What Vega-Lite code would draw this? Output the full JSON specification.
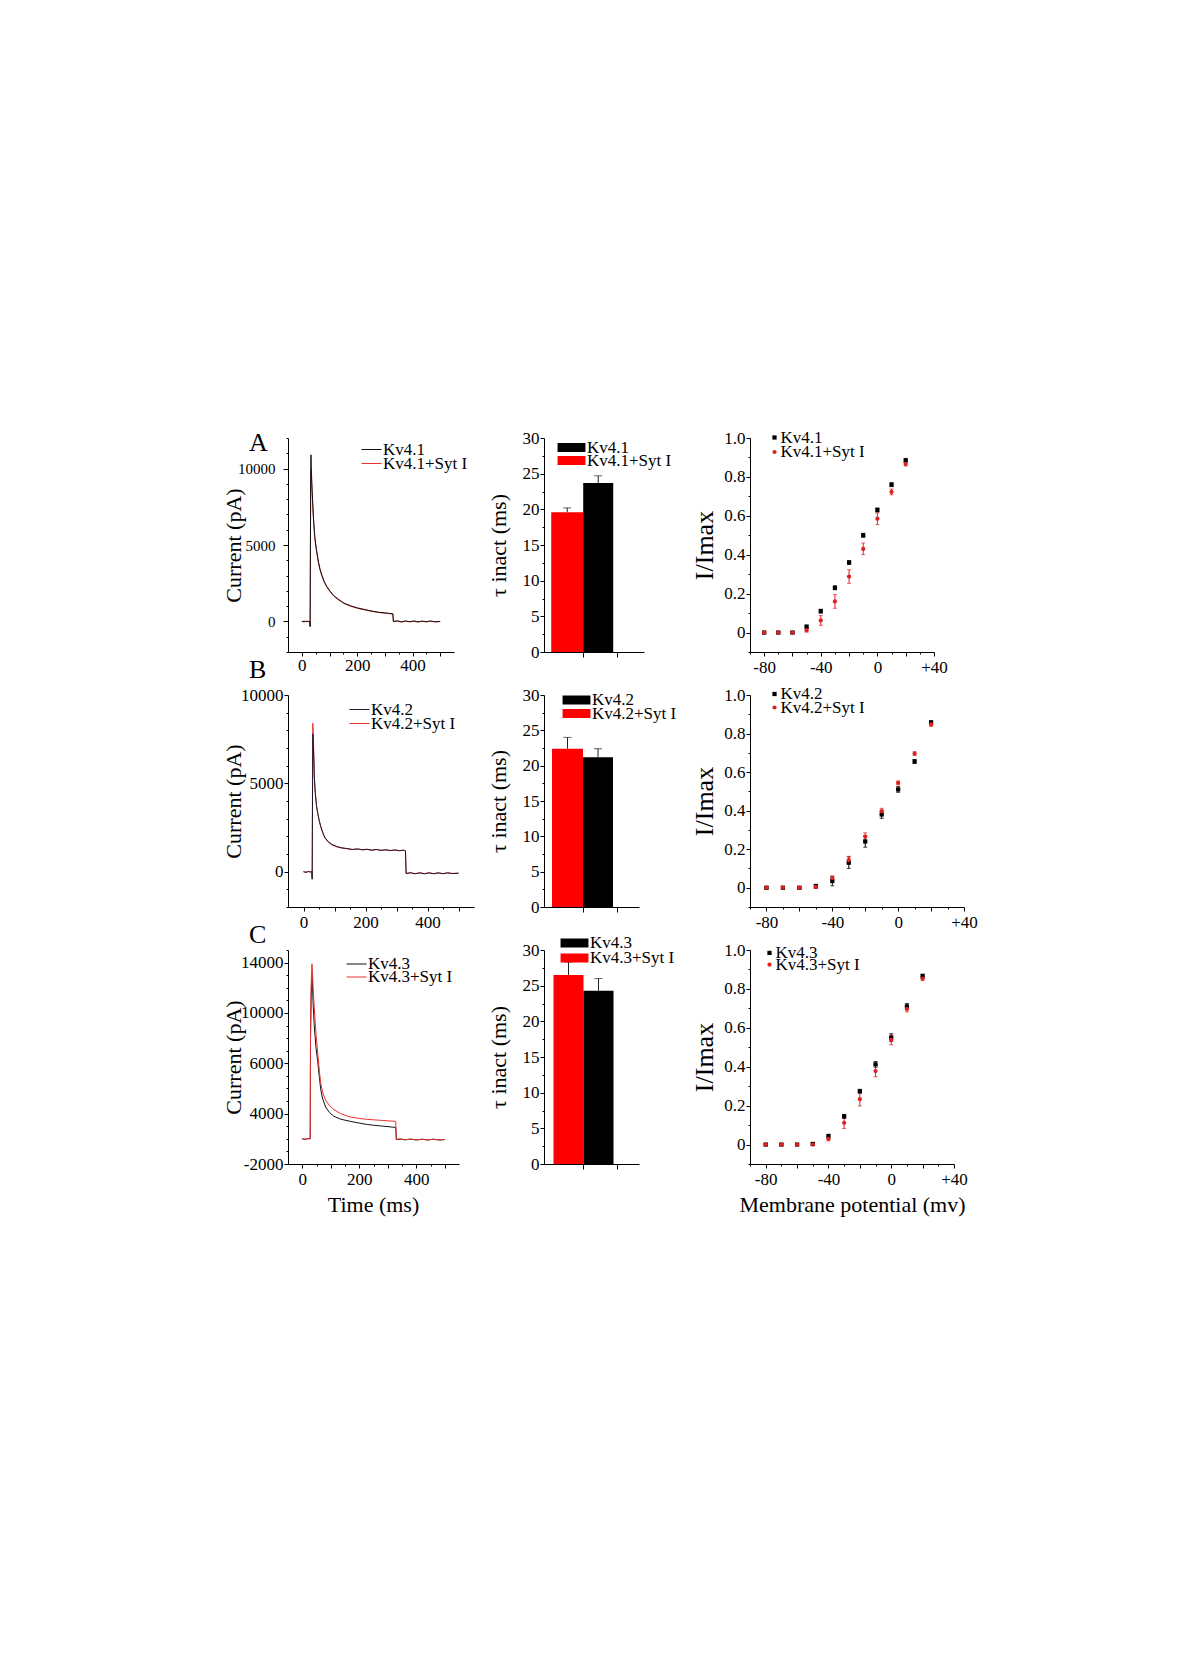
{
"$schema":"https://vega.github.io/schema/vega-lite/v6.json",
"background":"white",
"padding":{"left":222,"top":429,"right":10,"bottom":10},
"config":{"font":"Liberation Serif","view":{"stroke":null},
 "axis":{"grid":false,"domainColor":"#000","tickColor":"#000","labelColor":"#000","titleColor":"#000","labelFont":"Liberation Serif","titleFont":"Liberation Serif","titleFontWeight":"normal","domainWidth":1,"tickWidth":1,"titleFontSize":22,"labelOverlap":false,"labelFlush":false},
 "legend":{"padding":0,"labelFont":"Liberation Serif","labelColor":"#000","labelFontSize":17},
 "title":{"font":"Liberation Serif","fontWeight":"normal","color":"#000"}},
"datasets":{
"trA":[
{"t":0,"I":0,"s":"Kv4.1+Syt I"},{"t":8,"I":20,"s":"Kv4.1+Syt I"},{"t":16,"I":-20,"s":"Kv4.1+Syt I"},{"t":24,"I":10,"s":"Kv4.1+Syt I"},{"t":29,"I":0,"s":"Kv4.1+Syt I"},{"t":30,"I":-300,"s":"Kv4.1+Syt I"},{"t":31,"I":4500,"s":"Kv4.1+Syt I"},{"t":32,"I":9000,"s":"Kv4.1+Syt I"},{"t":33,"I":9850,"s":"Kv4.1+Syt I"},{"t":34,"I":9600,"s":"Kv4.1+Syt I"},{"t":35,"I":9200,"s":"Kv4.1+Syt I"},{"t":37,"I":8500,"s":"Kv4.1+Syt I"},{"t":40,"I":7400,"s":"Kv4.1+Syt I"},{"t":43,"I":6400,"s":"Kv4.1+Syt I"},{"t":47,"I":5400,"s":"Kv4.1+Syt I"},{"t":53,"I":4600,"s":"Kv4.1+Syt I"},{"t":60,"I":3850,"s":"Kv4.1+Syt I"},{"t":66,"I":3350,"s":"Kv4.1+Syt I"},{"t":72,"I":3000,"s":"Kv4.1+Syt I"},{"t":80,"I":2600,"s":"Kv4.1+Syt I"},{"t":90,"I":2250,"s":"Kv4.1+Syt I"},{"t":103,"I":1920,"s":"Kv4.1+Syt I"},{"t":115,"I":1660,"s":"Kv4.1+Syt I"},{"t":130,"I":1440,"s":"Kv4.1+Syt I"},{"t":152,"I":1180,"s":"Kv4.1+Syt I"},{"t":175,"I":1000,"s":"Kv4.1+Syt I"},{"t":202,"I":850,"s":"Kv4.1+Syt I"},{"t":225,"I":760,"s":"Kv4.1+Syt I"},{"t":250,"I":670,"s":"Kv4.1+Syt I"},{"t":276,"I":590,"s":"Kv4.1+Syt I"},{"t":300,"I":540,"s":"Kv4.1+Syt I"},{"t":315,"I":510,"s":"Kv4.1+Syt I"},{"t":329,"I":480,"s":"Kv4.1+Syt I"},{"t":331,"I":-20,"s":"Kv4.1+Syt I"},{"t":345,"I":20,"s":"Kv4.1+Syt I"},{"t":360,"I":-40,"s":"Kv4.1+Syt I"},{"t":375,"I":20,"s":"Kv4.1+Syt I"},{"t":390,"I":-30,"s":"Kv4.1+Syt I"},{"t":405,"I":20,"s":"Kv4.1+Syt I"},{"t":420,"I":-40,"s":"Kv4.1+Syt I"},{"t":435,"I":10,"s":"Kv4.1+Syt I"},{"t":450,"I":-30,"s":"Kv4.1+Syt I"},{"t":465,"I":20,"s":"Kv4.1+Syt I"},{"t":480,"I":-30,"s":"Kv4.1+Syt I"},{"t":500,"I":-10,"s":"Kv4.1+Syt I"},
{"t":0,"I":0,"s":"Kv4.1"},{"t":8,"I":-30,"s":"Kv4.1"},{"t":16,"I":20,"s":"Kv4.1"},{"t":24,"I":-10,"s":"Kv4.1"},{"t":29,"I":0,"s":"Kv4.1"},{"t":30,"I":-350,"s":"Kv4.1"},{"t":31,"I":5000,"s":"Kv4.1"},{"t":32,"I":9500,"s":"Kv4.1"},{"t":33,"I":10900,"s":"Kv4.1"},{"t":34,"I":10200,"s":"Kv4.1"},{"t":35,"I":9600,"s":"Kv4.1"},{"t":37,"I":8700,"s":"Kv4.1"},{"t":40,"I":7500,"s":"Kv4.1"},{"t":43,"I":6500,"s":"Kv4.1"},{"t":47,"I":5500,"s":"Kv4.1"},{"t":53,"I":4700,"s":"Kv4.1"},{"t":60,"I":3900,"s":"Kv4.1"},{"t":66,"I":3400,"s":"Kv4.1"},{"t":72,"I":3060,"s":"Kv4.1"},{"t":80,"I":2650,"s":"Kv4.1"},{"t":90,"I":2300,"s":"Kv4.1"},{"t":103,"I":1970,"s":"Kv4.1"},{"t":115,"I":1700,"s":"Kv4.1"},{"t":130,"I":1480,"s":"Kv4.1"},{"t":152,"I":1200,"s":"Kv4.1"},{"t":175,"I":1030,"s":"Kv4.1"},{"t":202,"I":880,"s":"Kv4.1"},{"t":225,"I":790,"s":"Kv4.1"},{"t":250,"I":690,"s":"Kv4.1"},{"t":276,"I":600,"s":"Kv4.1"},{"t":300,"I":560,"s":"Kv4.1"},{"t":315,"I":530,"s":"Kv4.1"},{"t":329,"I":500,"s":"Kv4.1"},{"t":331,"I":0,"s":"Kv4.1"},{"t":345,"I":40,"s":"Kv4.1"},{"t":360,"I":-30,"s":"Kv4.1"},{"t":375,"I":30,"s":"Kv4.1"},{"t":390,"I":-20,"s":"Kv4.1"},{"t":405,"I":30,"s":"Kv4.1"},{"t":420,"I":-30,"s":"Kv4.1"},{"t":435,"I":20,"s":"Kv4.1"},{"t":450,"I":-20,"s":"Kv4.1"},{"t":465,"I":30,"s":"Kv4.1"},{"t":480,"I":-20,"s":"Kv4.1"},{"t":500,"I":0,"s":"Kv4.1"}],
"trB":[
{"t":0,"I":-10,"s":"Kv4.2+Syt I"},{"t":8,"I":-30,"s":"Kv4.2+Syt I"},{"t":16,"I":0,"s":"Kv4.2+Syt I"},{"t":22,"I":-10,"s":"Kv4.2+Syt I"},{"t":27,"I":0,"s":"Kv4.2+Syt I"},{"t":28,"I":-400,"s":"Kv4.2+Syt I"},{"t":29,"I":4500,"s":"Kv4.2+Syt I"},{"t":30,"I":8400,"s":"Kv4.2+Syt I"},{"t":31,"I":8000,"s":"Kv4.2+Syt I"},{"t":33,"I":6800,"s":"Kv4.2+Syt I"},{"t":35,"I":5400,"s":"Kv4.2+Syt I"},{"t":38,"I":4500,"s":"Kv4.2+Syt I"},{"t":42,"I":3750,"s":"Kv4.2+Syt I"},{"t":46,"I":3300,"s":"Kv4.2+Syt I"},{"t":50,"I":2950,"s":"Kv4.2+Syt I"},{"t":55,"I":2580,"s":"Kv4.2+Syt I"},{"t":60,"I":2300,"s":"Kv4.2+Syt I"},{"t":65,"I":2070,"s":"Kv4.2+Syt I"},{"t":70,"I":1880,"s":"Kv4.2+Syt I"},{"t":80,"I":1670,"s":"Kv4.2+Syt I"},{"t":92,"I":1510,"s":"Kv4.2+Syt I"},{"t":108,"I":1400,"s":"Kv4.2+Syt I"},{"t":124,"I":1330,"s":"Kv4.2+Syt I"},{"t":140,"I":1300,"s":"Kv4.2+Syt I"},{"t":157,"I":1250,"s":"Kv4.2+Syt I"},{"t":175,"I":1280,"s":"Kv4.2+Syt I"},{"t":190,"I":1230,"s":"Kv4.2+Syt I"},{"t":205,"I":1260,"s":"Kv4.2+Syt I"},{"t":220,"I":1210,"s":"Kv4.2+Syt I"},{"t":235,"I":1250,"s":"Kv4.2+Syt I"},{"t":250,"I":1200,"s":"Kv4.2+Syt I"},{"t":265,"I":1230,"s":"Kv4.2+Syt I"},{"t":280,"I":1190,"s":"Kv4.2+Syt I"},{"t":295,"I":1220,"s":"Kv4.2+Syt I"},{"t":310,"I":1180,"s":"Kv4.2+Syt I"},{"t":322,"I":1210,"s":"Kv4.2+Syt I"},{"t":329,"I":1170,"s":"Kv4.2+Syt I"},{"t":331,"I":-110,"s":"Kv4.2+Syt I"},{"t":345,"I":-70,"s":"Kv4.2+Syt I"},{"t":360,"I":-110,"s":"Kv4.2+Syt I"},{"t":375,"I":-60,"s":"Kv4.2+Syt I"},{"t":390,"I":-110,"s":"Kv4.2+Syt I"},{"t":405,"I":-60,"s":"Kv4.2+Syt I"},{"t":420,"I":-110,"s":"Kv4.2+Syt I"},{"t":435,"I":-60,"s":"Kv4.2+Syt I"},{"t":450,"I":-110,"s":"Kv4.2+Syt I"},{"t":465,"I":-60,"s":"Kv4.2+Syt I"},{"t":480,"I":-100,"s":"Kv4.2+Syt I"},{"t":500,"I":-80,"s":"Kv4.2+Syt I"},
{"t":0,"I":0,"s":"Kv4.2"},{"t":8,"I":-40,"s":"Kv4.2"},{"t":16,"I":10,"s":"Kv4.2"},{"t":22,"I":-20,"s":"Kv4.2"},{"t":27,"I":0,"s":"Kv4.2"},{"t":28,"I":-430,"s":"Kv4.2"},{"t":29,"I":4000,"s":"Kv4.2"},{"t":30,"I":7800,"s":"Kv4.2"},{"t":31,"I":7500,"s":"Kv4.2"},{"t":33,"I":6500,"s":"Kv4.2"},{"t":35,"I":5300,"s":"Kv4.2"},{"t":38,"I":4440,"s":"Kv4.2"},{"t":42,"I":3700,"s":"Kv4.2"},{"t":46,"I":3300,"s":"Kv4.2"},{"t":50,"I":2950,"s":"Kv4.2"},{"t":55,"I":2600,"s":"Kv4.2"},{"t":60,"I":2330,"s":"Kv4.2"},{"t":65,"I":2100,"s":"Kv4.2"},{"t":70,"I":1910,"s":"Kv4.2"},{"t":80,"I":1700,"s":"Kv4.2"},{"t":92,"I":1540,"s":"Kv4.2"},{"t":108,"I":1420,"s":"Kv4.2"},{"t":124,"I":1350,"s":"Kv4.2"},{"t":140,"I":1310,"s":"Kv4.2"},{"t":157,"I":1260,"s":"Kv4.2"},{"t":175,"I":1290,"s":"Kv4.2"},{"t":190,"I":1240,"s":"Kv4.2"},{"t":205,"I":1270,"s":"Kv4.2"},{"t":220,"I":1220,"s":"Kv4.2"},{"t":235,"I":1260,"s":"Kv4.2"},{"t":250,"I":1210,"s":"Kv4.2"},{"t":265,"I":1240,"s":"Kv4.2"},{"t":280,"I":1200,"s":"Kv4.2"},{"t":295,"I":1230,"s":"Kv4.2"},{"t":310,"I":1190,"s":"Kv4.2"},{"t":322,"I":1220,"s":"Kv4.2"},{"t":329,"I":1180,"s":"Kv4.2"},{"t":331,"I":-100,"s":"Kv4.2"},{"t":345,"I":-60,"s":"Kv4.2"},{"t":360,"I":-120,"s":"Kv4.2"},{"t":375,"I":-70,"s":"Kv4.2"},{"t":390,"I":-120,"s":"Kv4.2"},{"t":405,"I":-70,"s":"Kv4.2"},{"t":420,"I":-120,"s":"Kv4.2"},{"t":435,"I":-70,"s":"Kv4.2"},{"t":450,"I":-120,"s":"Kv4.2"},{"t":465,"I":-70,"s":"Kv4.2"},{"t":480,"I":-110,"s":"Kv4.2"},{"t":500,"I":-90,"s":"Kv4.2"}],
"trC":[
{"t":0,"I":0,"s":"Kv4.3"},{"t":10,"I":-40,"s":"Kv4.3"},{"t":20,"I":20,"s":"Kv4.3"},{"t":28,"I":0,"s":"Kv4.3"},{"t":29,"I":8000,"s":"Kv4.3"},{"t":31,"I":11000,"s":"Kv4.3"},{"t":34,"I":13000,"s":"Kv4.3"},{"t":36,"I":12200,"s":"Kv4.3"},{"t":38,"I":10800,"s":"Kv4.3"},{"t":42,"I":9000,"s":"Kv4.3"},{"t":48,"I":7300,"s":"Kv4.3"},{"t":54,"I":6200,"s":"Kv4.3"},{"t":60,"I":4900,"s":"Kv4.3"},{"t":65,"I":3900,"s":"Kv4.3"},{"t":72,"I":3150,"s":"Kv4.3"},{"t":82,"I":2530,"s":"Kv4.3"},{"t":95,"I":2100,"s":"Kv4.3"},{"t":111,"I":1790,"s":"Kv4.3"},{"t":135,"I":1560,"s":"Kv4.3"},{"t":168,"I":1390,"s":"Kv4.3"},{"t":200,"I":1250,"s":"Kv4.3"},{"t":225,"I":1150,"s":"Kv4.3"},{"t":250,"I":1080,"s":"Kv4.3"},{"t":282,"I":1010,"s":"Kv4.3"},{"t":305,"I":960,"s":"Kv4.3"},{"t":328,"I":900,"s":"Kv4.3"},{"t":330,"I":-60,"s":"Kv4.3"},{"t":345,"I":-20,"s":"Kv4.3"},{"t":360,"I":-80,"s":"Kv4.3"},{"t":380,"I":-30,"s":"Kv4.3"},{"t":400,"I":-90,"s":"Kv4.3"},{"t":420,"I":-40,"s":"Kv4.3"},{"t":440,"I":-90,"s":"Kv4.3"},{"t":460,"I":-40,"s":"Kv4.3"},{"t":480,"I":-90,"s":"Kv4.3"},{"t":500,"I":-60,"s":"Kv4.3"},
{"t":0,"I":0,"s":"Kv4.3+Syt I"},{"t":10,"I":-30,"s":"Kv4.3+Syt I"},{"t":20,"I":10,"s":"Kv4.3+Syt I"},{"t":28,"I":0,"s":"Kv4.3+Syt I"},{"t":29,"I":8000,"s":"Kv4.3+Syt I"},{"t":31,"I":12000,"s":"Kv4.3+Syt I"},{"t":34,"I":13900,"s":"Kv4.3+Syt I"},{"t":36,"I":13200,"s":"Kv4.3+Syt I"},{"t":38,"I":12000,"s":"Kv4.3+Syt I"},{"t":42,"I":10500,"s":"Kv4.3+Syt I"},{"t":48,"I":8400,"s":"Kv4.3+Syt I"},{"t":54,"I":6900,"s":"Kv4.3+Syt I"},{"t":60,"I":5400,"s":"Kv4.3+Syt I"},{"t":65,"I":4400,"s":"Kv4.3+Syt I"},{"t":72,"I":3650,"s":"Kv4.3+Syt I"},{"t":82,"I":3070,"s":"Kv4.3+Syt I"},{"t":95,"I":2650,"s":"Kv4.3+Syt I"},{"t":111,"I":2320,"s":"Kv4.3+Syt I"},{"t":135,"I":2000,"s":"Kv4.3+Syt I"},{"t":168,"I":1730,"s":"Kv4.3+Syt I"},{"t":200,"I":1620,"s":"Kv4.3+Syt I"},{"t":225,"I":1550,"s":"Kv4.3+Syt I"},{"t":250,"I":1510,"s":"Kv4.3+Syt I"},{"t":282,"I":1460,"s":"Kv4.3+Syt I"},{"t":305,"I":1420,"s":"Kv4.3+Syt I"},{"t":328,"I":1390,"s":"Kv4.3+Syt I"},{"t":330,"I":-40,"s":"Kv4.3+Syt I"},{"t":345,"I":-10,"s":"Kv4.3+Syt I"},{"t":360,"I":-70,"s":"Kv4.3+Syt I"},{"t":380,"I":-20,"s":"Kv4.3+Syt I"},{"t":400,"I":-80,"s":"Kv4.3+Syt I"},{"t":420,"I":-30,"s":"Kv4.3+Syt I"},{"t":440,"I":-80,"s":"Kv4.3+Syt I"},{"t":460,"I":-30,"s":"Kv4.3+Syt I"},{"t":480,"I":-80,"s":"Kv4.3+Syt I"},{"t":500,"I":-50,"s":"Kv4.3+Syt I"}],
"barA":[{"grp":1,"s":"Kv4.1+Syt I","tau":19.6,"hi":20.2},{"grp":1,"s":"Kv4.1","tau":23.7,"hi":24.7}],
"barB":[{"grp":1,"s":"Kv4.2+Syt I","tau":22.4,"hi":24.0},{"grp":1,"s":"Kv4.2","tau":21.2,"hi":22.4}],
"barC":[{"grp":1,"s":"Kv4.3+Syt I","tau":26.5,"hi":28.3},{"grp":1,"s":"Kv4.3","tau":24.3,"hi":26.0}],
"ivA":[
{"v":-80,"y":0,"e":0.005,"s":"Kv4.1"},{"v":-70,"y":0,"e":0.005,"s":"Kv4.1"},{"v":-60,"y":0,"e":0.005,"s":"Kv4.1"},{"v":-50,"y":0.03,"e":0.008,"s":"Kv4.1"},{"v":-40,"y":0.11,"e":0.01,"s":"Kv4.1"},{"v":-30,"y":0.23,"e":0.01,"s":"Kv4.1"},{"v":-20,"y":0.36,"e":0.01,"s":"Kv4.1"},{"v":-10,"y":0.5,"e":0.01,"s":"Kv4.1"},{"v":0,"y":0.63,"e":0.01,"s":"Kv4.1"},{"v":10,"y":0.76,"e":0.01,"s":"Kv4.1"},{"v":20,"y":0.885,"e":0.01,"s":"Kv4.1"},
{"v":-80,"y":0,"e":0.005,"s":"Kv4.1+Syt I"},{"v":-70,"y":0,"e":0.005,"s":"Kv4.1+Syt I"},{"v":-60,"y":0,"e":0.005,"s":"Kv4.1+Syt I"},{"v":-50,"y":0.012,"e":0.01,"s":"Kv4.1+Syt I"},{"v":-40,"y":0.062,"e":0.025,"s":"Kv4.1+Syt I"},{"v":-30,"y":0.16,"e":0.035,"s":"Kv4.1+Syt I"},{"v":-20,"y":0.288,"e":0.035,"s":"Kv4.1+Syt I"},{"v":-10,"y":0.43,"e":0.03,"s":"Kv4.1+Syt I"},{"v":0,"y":0.585,"e":0.03,"s":"Kv4.1+Syt I"},{"v":10,"y":0.723,"e":0.015,"s":"Kv4.1+Syt I"},{"v":20,"y":0.866,"e":0.01,"s":"Kv4.1+Syt I"}],
"ivB":[
{"v":-80,"y":0,"e":0.005,"s":"Kv4.2"},{"v":-70,"y":0,"e":0.005,"s":"Kv4.2"},{"v":-60,"y":0,"e":0.005,"s":"Kv4.2"},{"v":-50,"y":0.008,"e":0.01,"s":"Kv4.2"},{"v":-40,"y":0.035,"e":0.025,"s":"Kv4.2"},{"v":-30,"y":0.13,"e":0.03,"s":"Kv4.2"},{"v":-20,"y":0.24,"e":0.03,"s":"Kv4.2"},{"v":-10,"y":0.38,"e":0.02,"s":"Kv4.2"},{"v":0,"y":0.51,"e":0.015,"s":"Kv4.2"},{"v":10,"y":0.655,"e":0.01,"s":"Kv4.2"},{"v":20,"y":0.857,"e":0.01,"s":"Kv4.2"},
{"v":-80,"y":0,"e":0.005,"s":"Kv4.2+Syt I"},{"v":-70,"y":0,"e":0.005,"s":"Kv4.2+Syt I"},{"v":-60,"y":0,"e":0.005,"s":"Kv4.2+Syt I"},{"v":-50,"y":0.004,"e":0.008,"s":"Kv4.2+Syt I"},{"v":-40,"y":0.05,"e":0.01,"s":"Kv4.2+Syt I"},{"v":-30,"y":0.143,"e":0.02,"s":"Kv4.2+Syt I"},{"v":-20,"y":0.265,"e":0.02,"s":"Kv4.2+Syt I"},{"v":-10,"y":0.397,"e":0.015,"s":"Kv4.2+Syt I"},{"v":0,"y":0.544,"e":0.01,"s":"Kv4.2+Syt I"},{"v":10,"y":0.696,"e":0.01,"s":"Kv4.2+Syt I"},{"v":20,"y":0.847,"e":0.01,"s":"Kv4.2+Syt I"}],
"ivC":[
{"v":-80,"y":0,"e":0.005,"s":"Kv4.3"},{"v":-70,"y":0,"e":0.005,"s":"Kv4.3"},{"v":-60,"y":0,"e":0.005,"s":"Kv4.3"},{"v":-50,"y":0.003,"e":0.008,"s":"Kv4.3"},{"v":-40,"y":0.043,"e":0.01,"s":"Kv4.3"},{"v":-30,"y":0.145,"e":0.01,"s":"Kv4.3"},{"v":-20,"y":0.274,"e":0.01,"s":"Kv4.3"},{"v":-10,"y":0.412,"e":0.015,"s":"Kv4.3"},{"v":0,"y":0.55,"e":0.02,"s":"Kv4.3"},{"v":10,"y":0.71,"e":0.015,"s":"Kv4.3"},{"v":20,"y":0.866,"e":0.01,"s":"Kv4.3"},
{"v":-80,"y":0,"e":0.005,"s":"Kv4.3+Syt I"},{"v":-70,"y":0,"e":0.005,"s":"Kv4.3+Syt I"},{"v":-60,"y":0,"e":0.005,"s":"Kv4.3+Syt I"},{"v":-50,"y":0,"e":0.005,"s":"Kv4.3+Syt I"},{"v":-40,"y":0.029,"e":0.01,"s":"Kv4.3+Syt I"},{"v":-30,"y":0.112,"e":0.03,"s":"Kv4.3+Syt I"},{"v":-20,"y":0.233,"e":0.035,"s":"Kv4.3+Syt I"},{"v":-10,"y":0.378,"e":0.03,"s":"Kv4.3+Syt I"},{"v":0,"y":0.538,"e":0.025,"s":"Kv4.3+Syt I"},{"v":10,"y":0.697,"e":0.015,"s":"Kv4.3+Syt I"},{"v":20,"y":0.853,"e":0.01,"s":"Kv4.3+Syt I"}]
},
"columns":3,
"bounds":"flush",
"spacing":{"row":43,"column":10},
"resolve":{"scale":{"color":"independent","shape":"independent","opacity":"independent"},"legend":{"color":"independent","shape":"independent","opacity":"independent"}},
"concat":[
 {"width":246,"height":214,
  "title":{"text":"A","anchor":"start","frame":"group","fontSize":26,"dx":-39,"dy":46,"offset":0,"baseline":"alphabetic"},
  "data":{"name":"trA"},
  "mark":{"type":"line","strokeWidth":1},
  "encoding":{
   "x":{"field":"t","type":"quantitative","scale":{"domain":[-50,550],"range":[0,166],"nice":false,"zero":false},
     "axis":{"title":null,"labelOverlap":false,"values":[0,50,100,150,200,250,300,350,400,450,500],"labelExpr":"datum.value % 200 === 0 ? format(datum.value,'d') : ''","tickSize":{"condition":{"test":"datum.value % 100 === 0","value":4},"value":2},"labelPadding":1,"labelFontSize":17}},
   "y":{"field":"I","type":"quantitative","scale":{"domain":[-2000,12000],"nice":false,"zero":false},
     "axis":{"title":"Current (pA)","labelOverlap":false,"titleX":-43,"titleBaseline":"bottom","values":[-2000,-1000,0,1000,2000,3000,4000,5000,6000,7000,8000,9000,10000,11000,12000],"labelExpr":"datum.value % 5000 === 0 ? format(datum.value,'d') : ''","tickSize":{"condition":{"test":"datum.value % 5000 === 0","value":5},"value":2},"labelPadding":8,"labelFontSize":15}},
   "color":{"field":"s","type":"nominal","scale":{"domain":["Kv4.1","Kv4.1+Syt I"],"range":["#111111","#e8302e"]},
     "legend":{"orient":"none","legendX":73,"legendY":1,"title":null,"values":["Kv4.1"],"symbolType":"stroke","symbolSize":400,"symbolStrokeWidth":1,"labelOffset":1}},
   "opacity":{"field":"s","type":"nominal","scale":{"domain":["Kv4.1+Syt I","Kv4.1"],"range":[1,1]},
     "legend":{"orient":"none","legendX":73,"legendY":15,"title":null,"values":["Kv4.1+Syt I"],"symbolType":"stroke","symbolSize":400,"symbolStrokeWidth":1,"symbolStrokeColor":"#e8302e","symbolOpacity":1,"labelOffset":1}}
  }},
  {"width":196,"height":214,"data":{"name":"barA"},
   "encoding":{"x":{"field":"grp","type":"quantitative","scale":{"domain":[0,2.63],"range":[0,100],"nice":false,"zero":false},"axis":{"values":[1,2],"labels":false,"title":null,"tickSize":5}},
     "y":{"field":"tau","type":"quantitative","title":"τ inact (ms)","scale":{"domain":[0,30],"nice":false},
       "axis":{"labelOverlap":false,"titleX":-34,"titleBaseline":"bottom","values":[0,2.5,5,7.5,10,12.5,15,17.5,20,22.5,25,27.5,30],"labelExpr":"datum.value % 5 === 0 ? format(datum.value,'d') : ''","tickSize":{"condition":{"test":"datum.value % 5 === 0","value":4},"value":2},"labelPadding":1,"labelFontSize":17}}},
   "layer":[
    {"transform":[{"filter":{"field":"s","equal":"Kv4.1+Syt I"}}],"mark":{"type":"bar","orient":"vertical","width":32,"xOffset":-16},
     "encoding":{
      "color":{"field":"s","type":"nominal","scale":{"domain":["Kv4.1","Kv4.1+Syt I"],"range":["#000000","#ff0000"]},
       "legend":{"orient":"none","legendX":19,"legendY":1,"title":null,"values":["Kv4.1"],"symbolType":"M-3.1,-1H3.1V1H-3.1Z","symbolSize":81,"symbolStrokeWidth":0,"labelOffset":7}},
      "opacity":{"field":"s","type":"nominal","scale":{"domain":["Kv4.1+Syt I","Kv4.1"],"range":[1,1]},
       "legend":{"orient":"none","legendX":19,"legendY":14,"title":null,"values":["Kv4.1+Syt I"],"symbolType":"M-3.1,-1H3.1V1H-3.1Z","symbolSize":81,"symbolStrokeWidth":0,"symbolFillColor":"#ff0000","symbolOpacity":1,"labelOffset":7}}}},
    {"transform":[{"filter":{"field":"s","equal":"Kv4.1"}}],"mark":{"type":"bar","orient":"vertical","width":30,"xOffset":15},
     "encoding":{"color":{"field":"s","type":"nominal"}}},
    {"transform":[{"filter":{"field":"s","equal":"Kv4.1+Syt I"}}],"mark":{"type":"rule","xOffset":-16,"color":"#222"},
     "encoding":{"y2":{"field":"hi"}}},
    {"transform":[{"filter":{"field":"s","equal":"Kv4.1"}}],"mark":{"type":"rule","xOffset":15,"color":"#222"},
     "encoding":{"y2":{"field":"hi"}}},
    {"transform":[{"filter":{"field":"s","equal":"Kv4.1+Syt I"}}],"mark":{"type":"tick","orient":"horizontal","size":8,"thickness":1,"xOffset":-16,"color":"#222"},
     "encoding":{"y":{"field":"hi","type":"quantitative","title":"τ inact (ms)",
       "axis":{"labelOverlap":false,"titleX":-34,"titleBaseline":"bottom","values":[0,2.5,5,7.5,10,12.5,15,17.5,20,22.5,25,27.5,30],"labelExpr":"datum.value % 5 === 0 ? format(datum.value,'d') : ''","tickSize":{"condition":{"test":"datum.value % 5 === 0","value":4},"value":2},"labelPadding":1,"labelFontSize":17}}}},
    {"transform":[{"filter":{"field":"s","equal":"Kv4.1"}}],"mark":{"type":"tick","orient":"horizontal","size":8,"thickness":1,"xOffset":15,"color":"#222"},
     "encoding":{"y":{"field":"hi","type":"quantitative","title":"τ inact (ms)",
       "axis":{"labelOverlap":false,"titleX":-34,"titleBaseline":"bottom","values":[0,2.5,5,7.5,10,12.5,15,17.5,20,22.5,25,27.5,30],"labelExpr":"datum.value % 5 === 0 ? format(datum.value,'d') : ''","tickSize":{"condition":{"test":"datum.value % 5 === 0","value":4},"value":2},"labelPadding":1,"labelFontSize":17}}}}
   ]},
  {"width":184,"height":214,"data":{"name":"ivA"},
   "encoding":{"x":{"field":"v","type":"quantitative","scale":{"domain":[-90,40],"nice":false,"zero":false},
     "axis":{"title":null,"labelOverlap":false,"values":[-90,-80,-70,-60,-50,-40,-30,-20,-10,0,10,20,30,40],"labelExpr":"datum.value == -80 ? '-80' : datum.value == -40 ? '-40' : datum.value == 0 ? '0' : datum.value == 40 ? '+40' : ''","tickSize":{"condition":{"test":"datum.value % 20 === 0","value":4},"value":2},"labelPadding":3,"labelFontSize":17}},
     "y":{"field":"y","type":"quantitative","title":"I/Imax","scale":{"domain":[-0.1,1.0],"nice":false,"zero":false},
       "axis":{"labelOverlap":false,"titleX":-33,"titleBaseline":"bottom","titleFontSize":26,"values":[-0.1,0,0.1,0.2,0.3,0.4,0.5,0.6,0.7,0.8,0.9,1.0],"labelExpr":"datum.value == 0 ? '0' : (datum.value == 0.2 || datum.value == 0.4 || datum.value == 0.6 || datum.value == 0.8 || datum.value == 1) ? format(datum.value,'.1f') : ''","tickSize":{"condition":{"test":"datum.value == 0 || datum.value == 0.2 || datum.value == 0.4 || datum.value == 0.6 || datum.value == 0.8 || datum.value == 1","value":4},"value":2},"labelPadding":1,"labelFontSize":17}}},
   "layer":[
    {"transform":[{"filter":{"field":"s","equal":"Kv4.1"}}],"mark":{"type":"errorbar","ticks":{"size":4,"color":"#000000"},"rule":{"color":"#000000"},"thickness":1},
     "encoding":{"yError":{"field":"e"}}},
    {"transform":[{"filter":{"field":"s","equal":"Kv4.1+Syt I"}}],"mark":{"type":"errorbar","ticks":{"size":4,"color":"#e02020"},"rule":{"color":"#e02020"},"thickness":1},
     "encoding":{"yError":{"field":"e"}}},
    {"mark":{"type":"point","filled":true,"opacity":1,"size":18},
     "encoding":{
      "color":{"field":"s","type":"nominal","scale":{"domain":["Kv4.1","Kv4.1+Syt I"],"range":["#000000","#e02020"]},"legend":{"orient":"none","legendX":16,"legendY":-9,"title":null,"values":["Kv4.1"],"labelOffset":-2.5,"symbolSize":18}},
      "shape":{"field":"s","type":"nominal","scale":{"domain":["Kv4.1","Kv4.1+Syt I"],"range":["square","circle"]},"legend":{"orient":"none","legendX":16,"legendY":-9,"title":null,"values":["Kv4.1"],"labelOffset":-2.5,"symbolSize":18}},
      "opacity":{"field":"s","type":"nominal","scale":{"domain":["Kv4.1+Syt I","Kv4.1"],"range":[1,1]},"legend":{"orient":"none","legendX":16,"legendY":5.5,"title":null,"values":["Kv4.1+Syt I"],"symbolType":"circle","symbolFillColor":"#e02020","symbolStrokeWidth":0,"symbolOpacity":1,"labelOffset":-2.5,"symbolSize":18}}}}
   ]},
 {"width":246,"height":212,
  "title":{"text":"B","anchor":"start","frame":"group","fontSize":26,"dx":-39,"dy":18,"offset":0,"baseline":"alphabetic"},
  "data":{"name":"trB"},
  "mark":{"type":"line","strokeWidth":1},
  "encoding":{
   "x":{"field":"t","type":"quantitative","scale":{"domain":[-50,550],"range":[0,186],"nice":false,"zero":false},
     "axis":{"title":null,"labelOverlap":false,"values":[0,50,100,150,200,250,300,350,400,450,500],"labelExpr":"datum.value % 200 === 0 ? format(datum.value,'d') : ''","tickSize":{"condition":{"test":"datum.value % 100 === 0","value":4},"value":2},"labelPadding":3,"labelFontSize":17}},
   "y":{"field":"I","type":"quantitative","scale":{"domain":[-2000,10000],"nice":false,"zero":false},
     "axis":{"title":"Current (pA)","labelOverlap":false,"titleX":-43,"titleBaseline":"bottom","values":[-2000,-1000,0,1000,2000,3000,4000,5000,6000,7000,8000,9000,10000],"labelExpr":"datum.value % 5000 === 0 ? format(datum.value,'d') : ''","tickSize":{"condition":{"test":"datum.value % 5000 === 0","value":4},"value":2},"labelPadding":1,"labelFontSize":17}},
   "color":{"field":"s","type":"nominal","scale":{"domain":["Kv4.2","Kv4.2+Syt I"],"range":["#1a1a2e","#e8302e"]},
     "legend":{"orient":"none","legendX":61,"legendY":4,"title":null,"values":["Kv4.2"],"symbolType":"stroke","symbolSize":400,"symbolStrokeWidth":1,"labelOffset":1}},
   "opacity":{"field":"s","type":"nominal","scale":{"domain":["Kv4.2+Syt I","Kv4.2"],"range":[1,1]},
     "legend":{"orient":"none","legendX":61,"legendY":18,"title":null,"values":["Kv4.2+Syt I"],"symbolType":"stroke","symbolSize":400,"symbolStrokeWidth":1,"symbolStrokeColor":"#e8302e","symbolOpacity":1,"labelOffset":1}}
  }},
  {"width":196,"height":212,"data":{"name":"barB"},
   "encoding":{"x":{"field":"grp","type":"quantitative","scale":{"domain":[0,2.5],"range":[0,95],"nice":false,"zero":false},"axis":{"values":[1,2],"labels":false,"title":null,"tickSize":5}},
     "y":{"field":"tau","type":"quantitative","title":"τ inact (ms)","scale":{"domain":[0,30],"nice":false},
       "axis":{"labelOverlap":false,"titleX":-34,"titleBaseline":"bottom","values":[0,2.5,5,7.5,10,12.5,15,17.5,20,22.5,25,27.5,30],"labelExpr":"datum.value % 5 === 0 ? format(datum.value,'d') : ''","tickSize":{"condition":{"test":"datum.value % 5 === 0","value":4},"value":2},"labelPadding":1,"labelFontSize":17}}},
   "layer":[
    {"transform":[{"filter":{"field":"s","equal":"Kv4.2+Syt I"}}],"mark":{"type":"bar","orient":"vertical","width":31,"xOffset":-15.5},
     "encoding":{
      "color":{"field":"s","type":"nominal","scale":{"domain":["Kv4.2","Kv4.2+Syt I"],"range":["#000000","#ff0000"]},
       "legend":{"orient":"none","legendX":24,"legendY":-3.5,"title":null,"values":["Kv4.2"],"symbolType":"M-3.1,-1H3.1V1H-3.1Z","symbolSize":81,"symbolStrokeWidth":0,"labelOffset":7}},
      "opacity":{"field":"s","type":"nominal","scale":{"domain":["Kv4.2+Syt I","Kv4.2"],"range":[1,1]},
       "legend":{"orient":"none","legendX":24,"legendY":10,"title":null,"values":["Kv4.2+Syt I"],"symbolType":"M-3.1,-1H3.1V1H-3.1Z","symbolSize":81,"symbolStrokeWidth":0,"symbolFillColor":"#ff0000","symbolOpacity":1,"labelOffset":7}}}},
    {"transform":[{"filter":{"field":"s","equal":"Kv4.2"}}],"mark":{"type":"bar","orient":"vertical","width":30,"xOffset":15},
     "encoding":{"color":{"field":"s","type":"nominal"}}},
    {"transform":[{"filter":{"field":"s","equal":"Kv4.2+Syt I"}}],"mark":{"type":"rule","xOffset":-15.5,"color":"#222"},
     "encoding":{"y2":{"field":"hi"}}},
    {"transform":[{"filter":{"field":"s","equal":"Kv4.2"}}],"mark":{"type":"rule","xOffset":15,"color":"#222"},
     "encoding":{"y2":{"field":"hi"}}},
    {"transform":[{"filter":{"field":"s","equal":"Kv4.2+Syt I"}}],"mark":{"type":"tick","orient":"horizontal","size":8,"thickness":1,"xOffset":-15.5,"color":"#222"},
     "encoding":{"y":{"field":"hi","type":"quantitative","title":"τ inact (ms)",
       "axis":{"labelOverlap":false,"titleX":-34,"titleBaseline":"bottom","values":[0,2.5,5,7.5,10,12.5,15,17.5,20,22.5,25,27.5,30],"labelExpr":"datum.value % 5 === 0 ? format(datum.value,'d') : ''","tickSize":{"condition":{"test":"datum.value % 5 === 0","value":4},"value":2},"labelPadding":1,"labelFontSize":17}}}},
    {"transform":[{"filter":{"field":"s","equal":"Kv4.2"}}],"mark":{"type":"tick","orient":"horizontal","size":8,"thickness":1,"xOffset":15,"color":"#222"},
     "encoding":{"y":{"field":"hi","type":"quantitative","title":"τ inact (ms)",
       "axis":{"labelOverlap":false,"titleX":-34,"titleBaseline":"bottom","values":[0,2.5,5,7.5,10,12.5,15,17.5,20,22.5,25,27.5,30],"labelExpr":"datum.value % 5 === 0 ? format(datum.value,'d') : ''","tickSize":{"condition":{"test":"datum.value % 5 === 0","value":4},"value":2},"labelPadding":1,"labelFontSize":17}}}}
   ]},
  {"width":214,"height":212,"data":{"name":"ivB"},
   "encoding":{"x":{"field":"v","type":"quantitative","scale":{"domain":[-90,40],"nice":false,"zero":false},
     "axis":{"title":null,"labelOverlap":false,"values":[-90,-80,-70,-60,-50,-40,-30,-20,-10,0,10,20,30,40],"labelExpr":"datum.value == -80 ? '-80' : datum.value == -40 ? '-40' : datum.value == 0 ? '0' : datum.value == 40 ? '+40' : ''","tickSize":{"condition":{"test":"datum.value % 20 === 0","value":4},"value":2},"labelPadding":3,"labelFontSize":17}},
     "y":{"field":"y","type":"quantitative","title":"I/Imax","scale":{"domain":[-0.1,1.0],"nice":false,"zero":false},
       "axis":{"labelOverlap":false,"titleX":-33,"titleBaseline":"bottom","titleFontSize":26,"values":[-0.1,0,0.1,0.2,0.3,0.4,0.5,0.6,0.7,0.8,0.9,1.0],"labelExpr":"datum.value == 0 ? '0' : (datum.value == 0.2 || datum.value == 0.4 || datum.value == 0.6 || datum.value == 0.8 || datum.value == 1) ? format(datum.value,'.1f') : ''","tickSize":{"condition":{"test":"datum.value == 0 || datum.value == 0.2 || datum.value == 0.4 || datum.value == 0.6 || datum.value == 0.8 || datum.value == 1","value":4},"value":2},"labelPadding":1,"labelFontSize":17}}},
   "layer":[
    {"transform":[{"filter":{"field":"s","equal":"Kv4.2"}}],"mark":{"type":"errorbar","ticks":{"size":4,"color":"#000000"},"rule":{"color":"#000000"},"thickness":1},
     "encoding":{"yError":{"field":"e"}}},
    {"transform":[{"filter":{"field":"s","equal":"Kv4.2+Syt I"}}],"mark":{"type":"errorbar","ticks":{"size":4,"color":"#e02020"},"rule":{"color":"#e02020"},"thickness":1},
     "encoding":{"yError":{"field":"e"}}},
    {"mark":{"type":"point","filled":true,"opacity":1,"size":18},
     "encoding":{
      "color":{"field":"s","type":"nominal","scale":{"domain":["Kv4.2","Kv4.2+Syt I"],"range":["#000000","#e02020"]},"legend":{"orient":"none","legendX":16,"legendY":-9.5,"title":null,"values":["Kv4.2"],"labelOffset":-2.5,"symbolSize":18}},
      "shape":{"field":"s","type":"nominal","scale":{"domain":["Kv4.2","Kv4.2+Syt I"],"range":["square","circle"]},"legend":{"orient":"none","legendX":16,"legendY":-9.5,"title":null,"values":["Kv4.2"],"labelOffset":-2.5,"symbolSize":18}},
      "opacity":{"field":"s","type":"nominal","scale":{"domain":["Kv4.2+Syt I","Kv4.2"],"range":[1,1]},"legend":{"orient":"none","legendX":16,"legendY":4,"title":null,"values":["Kv4.2+Syt I"],"symbolType":"circle","symbolFillColor":"#e02020","symbolStrokeWidth":0,"symbolOpacity":1,"labelOffset":-2.5,"symbolSize":18}}}}
   ]},
 {"width":246,"height":214,
  "title":{"text":"C","anchor":"start","frame":"group","fontSize":26,"dx":-39,"dy":28,"offset":0,"baseline":"alphabetic"},
  "data":{"name":"trC"},
  "mark":{"type":"line","strokeWidth":1},
  "encoding":{
   "x":{"field":"t","type":"quantitative","scale":{"domain":[-50,550],"range":[0,171],"nice":false,"zero":false},
     "axis":{"title":"Time (ms)","labelOverlap":false,"titleX":85,"titlePadding":7,"values":[0,50,100,150,200,250,300,350,400,450,500],"labelExpr":"datum.value % 200 === 0 ? format(datum.value,'d') : ''","tickSize":{"condition":{"test":"datum.value % 100 === 0","value":4},"value":2},"labelPadding":3,"labelFontSize":17}},
   "y":{"field":"I","type":"quantitative","scale":{"domain":[-2000,15000],"nice":false,"zero":false},
     "axis":{"title":"Current (pA)","labelOverlap":false,"titleX":-43,"titleBaseline":"bottom","values":[-2000,-1000,0,1000,2000,3000,4000,5000,6000,7000,8000,9000,10000,11000,12000,13000,14000,15000],"labelExpr":"datum.value == -2000 ? '-2000' : datum.value == 2000 ? '4000' : (datum.value == 6000 || datum.value == 10000 || datum.value == 14000) ? format(datum.value,'d') : ''","tickSize":{"condition":{"test":"(datum.value + 2000) % 4000 === 0","value":4},"value":2},"labelPadding":1,"labelFontSize":17}},
   "color":{"field":"s","type":"nominal","scale":{"domain":["Kv4.3","Kv4.3+Syt I"],"range":["#111111","#e8302e"]},
     "legend":{"orient":"none","legendX":58,"legendY":3.5,"title":null,"values":["Kv4.3"],"symbolType":"stroke","symbolSize":400,"symbolStrokeWidth":1,"labelOffset":1}},
   "opacity":{"field":"s","type":"nominal","scale":{"domain":["Kv4.3+Syt I","Kv4.3"],"range":[1,1]},
     "legend":{"orient":"none","legendX":58,"legendY":16.5,"title":null,"values":["Kv4.3+Syt I"],"symbolType":"stroke","symbolSize":400,"symbolStrokeWidth":1,"symbolStrokeColor":"#e8302e","symbolOpacity":1,"labelOffset":1}}
  }},
  {"width":196,"height":214,"data":{"name":"barC"},
   "encoding":{"x":{"field":"grp","type":"quantitative","scale":{"domain":[0,2.5],"range":[0,95],"nice":false,"zero":false},"axis":{"values":[1,2],"labels":false,"title":null,"tickSize":5}},
     "y":{"field":"tau","type":"quantitative","title":"τ inact (ms)","scale":{"domain":[0,30],"nice":false},
       "axis":{"labelOverlap":false,"titleX":-34,"titleBaseline":"bottom","values":[0,2.5,5,7.5,10,12.5,15,17.5,20,22.5,25,27.5,30],"labelExpr":"datum.value % 5 === 0 ? format(datum.value,'d') : ''","tickSize":{"condition":{"test":"datum.value % 5 === 0","value":4},"value":2},"labelPadding":1,"labelFontSize":17}}},
   "layer":[
    {"transform":[{"filter":{"field":"s","equal":"Kv4.3+Syt I"}}],"mark":{"type":"bar","orient":"vertical","width":30,"xOffset":-14.5},
     "encoding":{
      "color":{"field":"s","type":"nominal","scale":{"domain":["Kv4.3","Kv4.3+Syt I"],"range":["#000000","#ff0000"]},
       "legend":{"orient":"none","legendX":22,"legendY":-15.5,"title":null,"values":["Kv4.3"],"symbolType":"M-3.1,-1H3.1V1H-3.1Z","symbolSize":81,"symbolStrokeWidth":0,"labelOffset":7}},
      "opacity":{"field":"s","type":"nominal","scale":{"domain":["Kv4.3+Syt I","Kv4.3"],"range":[1,1]},
       "legend":{"orient":"none","legendX":22,"legendY":-0.5,"title":null,"values":["Kv4.3+Syt I"],"symbolType":"M-3.1,-1H3.1V1H-3.1Z","symbolSize":81,"symbolStrokeWidth":0,"symbolFillColor":"#ff0000","symbolOpacity":1,"labelOffset":7}}}},
    {"transform":[{"filter":{"field":"s","equal":"Kv4.3"}}],"mark":{"type":"bar","orient":"vertical","width":30,"xOffset":15.5},
     "encoding":{"color":{"field":"s","type":"nominal"}}},
    {"transform":[{"filter":{"field":"s","equal":"Kv4.3+Syt I"}}],"mark":{"type":"rule","xOffset":-14.5,"color":"#222"},
     "encoding":{"y2":{"field":"hi"}}},
    {"transform":[{"filter":{"field":"s","equal":"Kv4.3"}}],"mark":{"type":"rule","xOffset":15.5,"color":"#222"},
     "encoding":{"y2":{"field":"hi"}}},
    {"transform":[{"filter":{"field":"s","equal":"Kv4.3+Syt I"}}],"mark":{"type":"tick","orient":"horizontal","size":8,"thickness":1,"xOffset":-14.5,"color":"#222"},
     "encoding":{"y":{"field":"hi","type":"quantitative","title":"τ inact (ms)",
       "axis":{"labelOverlap":false,"titleX":-34,"titleBaseline":"bottom","values":[0,2.5,5,7.5,10,12.5,15,17.5,20,22.5,25,27.5,30],"labelExpr":"datum.value % 5 === 0 ? format(datum.value,'d') : ''","tickSize":{"condition":{"test":"datum.value % 5 === 0","value":4},"value":2},"labelPadding":1,"labelFontSize":17}}}},
    {"transform":[{"filter":{"field":"s","equal":"Kv4.3"}}],"mark":{"type":"tick","orient":"horizontal","size":8,"thickness":1,"xOffset":15.5,"color":"#222"},
     "encoding":{"y":{"field":"hi","type":"quantitative","title":"τ inact (ms)",
       "axis":{"labelOverlap":false,"titleX":-34,"titleBaseline":"bottom","values":[0,2.5,5,7.5,10,12.5,15,17.5,20,22.5,25,27.5,30],"labelExpr":"datum.value % 5 === 0 ? format(datum.value,'d') : ''","tickSize":{"condition":{"test":"datum.value % 5 === 0","value":4},"value":2},"labelPadding":1,"labelFontSize":17}}}}
   ]},
  {"width":204,"height":214,"data":{"name":"ivC"},
   "encoding":{"x":{"field":"v","type":"quantitative","scale":{"domain":[-90,40],"nice":false,"zero":false},
     "axis":{"title":"Membrane potential (mv)","labelOverlap":false,"titlePadding":7,"values":[-90,-80,-70,-60,-50,-40,-30,-20,-10,0,10,20,30,40],"labelExpr":"datum.value == -80 ? '-80' : datum.value == -40 ? '-40' : datum.value == 0 ? '0' : datum.value == 40 ? '+40' : ''","tickSize":{"condition":{"test":"datum.value % 20 === 0","value":4},"value":2},"labelPadding":3,"labelFontSize":17}},
     "y":{"field":"y","type":"quantitative","title":"I/Imax","scale":{"domain":[-0.1,1.0],"nice":false,"zero":false},
       "axis":{"labelOverlap":false,"titleX":-33,"titleBaseline":"bottom","titleFontSize":26,"values":[-0.1,0,0.1,0.2,0.3,0.4,0.5,0.6,0.7,0.8,0.9,1.0],"labelExpr":"datum.value == 0 ? '0' : (datum.value == 0.2 || datum.value == 0.4 || datum.value == 0.6 || datum.value == 0.8 || datum.value == 1) ? format(datum.value,'.1f') : ''","tickSize":{"condition":{"test":"datum.value == 0 || datum.value == 0.2 || datum.value == 0.4 || datum.value == 0.6 || datum.value == 0.8 || datum.value == 1","value":4},"value":2},"labelPadding":1,"labelFontSize":17}}},
   "layer":[
    {"transform":[{"filter":{"field":"s","equal":"Kv4.3"}}],"mark":{"type":"errorbar","ticks":{"size":4,"color":"#000000"},"rule":{"color":"#000000"},"thickness":1},
     "encoding":{"yError":{"field":"e"}}},
    {"transform":[{"filter":{"field":"s","equal":"Kv4.3+Syt I"}}],"mark":{"type":"errorbar","ticks":{"size":4,"color":"#e02020"},"rule":{"color":"#e02020"},"thickness":1},
     "encoding":{"yError":{"field":"e"}}},
    {"mark":{"type":"point","filled":true,"opacity":1,"size":18},
     "encoding":{
      "color":{"field":"s","type":"nominal","scale":{"domain":["Kv4.3","Kv4.3+Syt I"],"range":["#000000","#e02020"]},"legend":{"orient":"none","legendX":11,"legendY":-5.6,"title":null,"values":["Kv4.3"],"labelOffset":-2.5,"symbolSize":18}},
      "shape":{"field":"s","type":"nominal","scale":{"domain":["Kv4.3","Kv4.3+Syt I"],"range":["square","circle"]},"legend":{"orient":"none","legendX":11,"legendY":-5.6,"title":null,"values":["Kv4.3"],"labelOffset":-2.5,"symbolSize":18}},
      "opacity":{"field":"s","type":"nominal","scale":{"domain":["Kv4.3+Syt I","Kv4.3"],"range":[1,1]},"legend":{"orient":"none","legendX":11,"legendY":6.1,"title":null,"values":["Kv4.3+Syt I"],"symbolType":"circle","symbolFillColor":"#e02020","symbolStrokeWidth":0,"symbolOpacity":1,"labelOffset":-2.5,"symbolSize":18}}}}
   ]}
]
}
